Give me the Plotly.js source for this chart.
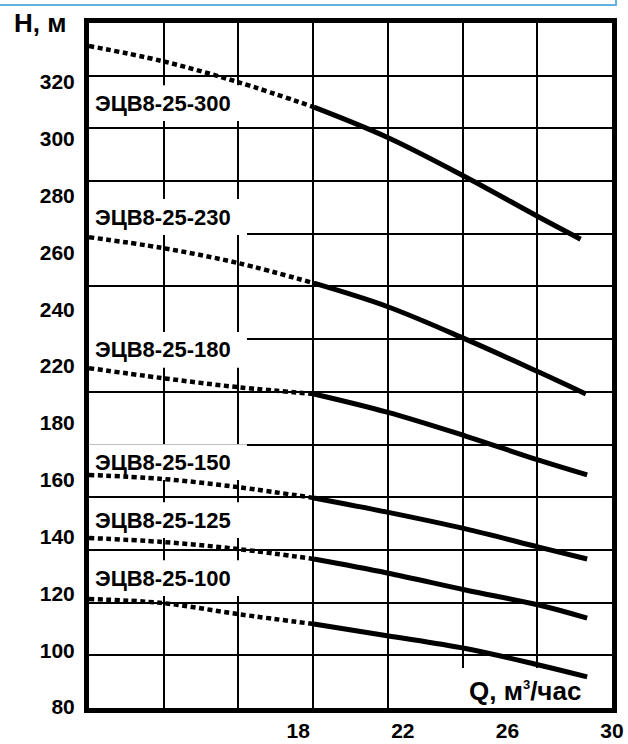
<!DOCTYPE html>
<html>
<head>
<meta charset="utf-8">
<script src="https://cdn.plot.ly/plotly-3.0.1.min.js"></script>
<style>html,body{margin:0;padding:0;background:#fff;}#chart{width:628px;height:744px;}</style>
</head>
<body>
<div id="chart"></div>
<script>
// ---- data (Q in m3/h, H in axis units of the printed scale) ----
const models = ['ЭЦВ8-25-300', 'ЭЦВ8-25-230', 'ЭЦВ8-25-180', 'ЭЦВ8-25-150', 'ЭЦВ8-25-125', 'ЭЦВ8-25-100'];
const qDot = [10, 12.8, 15.7, 18.6];
const qSolid = [18.6, 21.4, 24.4, 27.2];
const qEnd = [28.8, 29.0, 29.05, 29.05, 29.05, 29.05];
const hDot = [
  [312.7, 307.4, 300.0, 291.2],
  [245.4, 241.6, 236.3, 229.2],
  [199.3, 195.8, 192.6, 190.2],
  [161.7, 160.3, 157.4, 153.6],
  [139.5, 138.1, 135.6, 132.1],
  [118.0, 116.6, 112.7, 109.2]
];
const hSolid = [
  [291.2, 280.6, 266.6, 252.5, 244.7],
  [229.2, 221.0, 209.5, 197.9, 190.2],
  [190.2, 183.8, 175.4, 166.9, 161.7],
  [153.6, 148.6, 142.7, 136.3, 132.1],
  [132.1, 127.2, 121.2, 115.9, 111.3],
  [109.2, 105.1, 100.6, 94.8, 90.6]
];
const labelH = [292.6, 252.5, 205.7, 166.2, 145.8, 125.4];
const yTickVals = [80, 100, 120, 140, 160, 180, 200, 220, 240, 260, 280, 300];
const yTickText = ['80', '100', '120', '140', '160', '180', '220', '240', '260', '280', '300', '320'];
const xTickVals = [18, 22, 26, 30];
const xTickText = ['18', '22', '26', '30'];

const FONT = 'Liberation Sans, Arial, sans-serif';
const traces = [];
for (let i = 0; i < models.length; i++) {
  traces.push({
    x: qDot, y: hDot[i], mode: 'lines', type: 'scatter',
    line: {color: '#000', width: 4.5, dash: '5px,3.5px', shape: 'spline'},
    hoverinfo: 'skip', showlegend: false
  });
  traces.push({
    x: qSolid.concat([qEnd[i]]), y: hSolid[i], mode: 'lines', type: 'scatter',
    line: {color: '#000', width: 5, shape: 'spline'},
    name: models[i], showlegend: false
  });
}
// overlay axes carrying the printed grid
traces.push({x: [], y: [], xaxis: 'x2', yaxis: 'y2', type: 'scatter', mode: 'lines', showlegend: false, hoverinfo: 'skip'});

const shapes = [];
const annotations = [];
for (let i = 0; i < models.length; i++) {
  shapes.push({type: 'rect', layer: 'between', xref: 'x', yref: 'y',
    x0: 10, x1: 16.04, y0: labelH[i] - 6.3, y1: labelH[i] + 6.3,
    fillcolor: '#fff', line: {width: 0}});
  annotations.push({text: models[i], xref: 'x', yref: 'y', x: 10, y: labelH[i],
    xanchor: 'left', yanchor: 'middle', xshift: 4, showarrow: false,
    font: {family: FONT, size: 22, color: '#000', weight: 'bold'}});
}
// Q label box
shapes.push({type: 'rect', layer: 'between', xref: 'x', yref: 'y',
  x0: 24.2, x1: 29.4, y0: 79.65, y1: 93.7, fillcolor: '#fff', line: {width: 0}});
annotations.push({text: 'Q, м<sup><span style="font-size:13px">3</span></sup>/час', xref: 'x', yref: 'y', x: 26.69, y: 85.6,
  xanchor: 'center', yanchor: 'middle', showarrow: false,
  font: {family: FONT, size: 26, color: '#000', weight: 'bold'}});
annotations.push({text: 'H, м', xref: 'paper', yref: 'paper', x: 0, y: 1,
  xanchor: 'center', yanchor: 'middle', xshift: -49, yshift: 0.5, showarrow: false,
  font: {family: FONT, size: 26, color: '#000', weight: 'bold'}});
// frame line of the page above the chart
shapes.push({type: 'path', xref: 'paper', yref: 'paper',
  path: 'M -0.2 1.0263 L 1.0076 1.0263 L 1.0076 1.05',
  line: {color: '#62b1e3', width: 2}});

const layout = {
  width: 628, height: 744,
  margin: {l: 89, r: 16, t: 23, b: 36, pad: 0},
  paper_bgcolor: '#fff', plot_bgcolor: '#fff',
  showlegend: false,
  xaxis: {range: [10, 30], tickmode: 'array', tickvals: xTickVals, ticktext: xTickText,
    showgrid: false, zeroline: false, showline: true, mirror: true, linewidth: 5, linecolor: '#000',
    ticks: '', ticklabelstandoff: 0,
    tickfont: {family: FONT, size: 21, color: '#000', weight: 'bold'}},
  yaxis: {range: [79.65, 320.8], tickmode: 'array', tickvals: yTickVals, ticktext: yTickText,
    showgrid: false, zeroline: false, showline: true, mirror: true, linewidth: 5, linecolor: '#000',
    ticks: '', ticklabelstandoff: 5,
    tickfont: {family: FONT, size: 21, color: '#000', weight: 'bold'}},
  xaxis2: {overlaying: 'x', side: 'top', range: [0, 7], dtick: 1, tick0: 0, showgrid: true,
    gridcolor: '#000', gridwidth: 2, showticklabels: false, ticks: '', zeroline: false, showline: false},
  yaxis2: {overlaying: 'y', side: 'right', range: [0, 13], dtick: 1, tick0: 0, showgrid: true,
    gridcolor: '#000', gridwidth: 2, showticklabels: false, ticks: '', zeroline: false, showline: false},
  shapes: shapes,
  annotations: annotations
};
Plotly.newPlot('chart', traces, layout, {staticPlot: true});
</script>
</body>
</html>
